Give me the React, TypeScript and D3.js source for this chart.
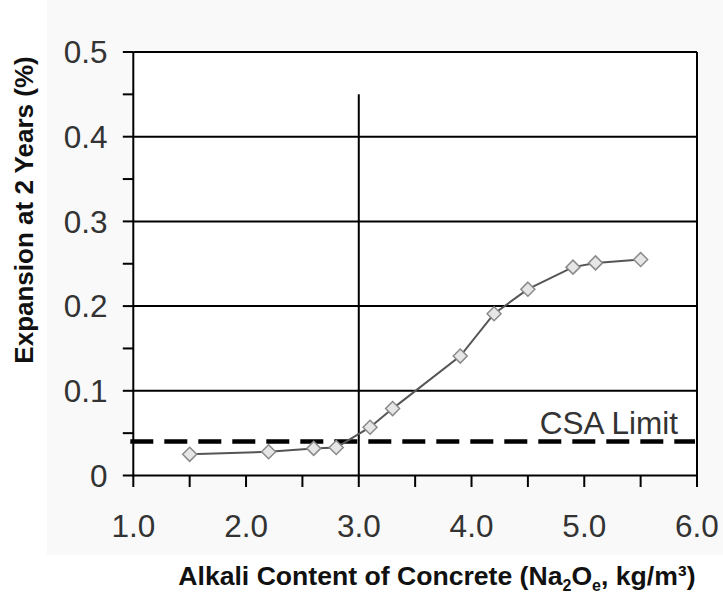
import React from "react";
import * as d3 from "d3";

const alkali = [1.5, 2.2, 2.6, 2.8, 3.1, 3.3, 3.9, 4.2, 4.5, 4.9, 5.1, 5.5];
const expansion = [0.025, 0.028, 0.032, 0.033, 0.057, 0.079, 0.141, 0.191, 0.22, 0.246, 0.251, 0.255];
const xTickLabels = ["1.0", "2.0", "3.0", "4.0", "5.0", "6.0"];
const yTickLabels = ["0", "0.1", "0.2", "0.3", "0.4", "0.5"];
const csaLimit = 0.04;
const refAlkali = 3.0;
const refLineTop = 0.45;

const W = 723;
const H = 594;

export default function App() {
  const x = d3.scaleLinear().domain([1, 6]).range([133.3, 697]);
  const y = d3.scaleLinear().domain([0, 0.5]).range([475.5, 52]);

  const xMinor = d3.range(1, 6.001, 0.5);
  const yMinor = d3.range(0, 0.5001, 0.05);
  const grid = [0.1, 0.2, 0.3, 0.4, 0.5];

  const line = d3
    .line<number>()
    .x((_, i) => x(alkali[i]))
    .y((d) => y(d));

  const diamond = (cx: number, cy: number, r: number) =>
    `M${cx},${cy - r}L${cx + r},${cy}L${cx},${cy + r}L${cx - r},${cy}Z`;

  const font = "Liberation Sans, Arial, Helvetica, sans-serif";

  return (
    <svg
      width={W}
      height={H}
      style={{ position: "absolute", left: 0, top: 0, background: "#ffffff" }}
      fontFamily={font}
    >
      <rect x={47} y={0} width={W - 47} height={555} fill="#f9f9f9" />
      <rect x={x(1)} y={y(0.5)} width={x(6) - x(1)} height={y(0) - y(0.5)} fill="#ffffff" />

      {grid.map((g) => (
        <line key={"g" + g} x1={x(1)} x2={x(6)} y1={y(g)} y2={y(g)} stroke="#000" strokeWidth={2} />
      ))}
      <line x1={x(6)} x2={x(6)} y1={y(0.5)} y2={y(0)} stroke="#000" strokeWidth={2} />
      <line x1={x(refAlkali)} x2={x(refAlkali)} y1={y(refLineTop)} y2={y(0)} stroke="#000" strokeWidth={2} />

      <line
        x1={x(1) - 3}
        x2={x(6) - 2}
        y1={y(csaLimit)}
        y2={y(csaLimit)}
        stroke="#000"
        strokeWidth={4.5}
        strokeDasharray="23 11"
      />
      <text x={678} y={434.3} textAnchor="end" fontSize={31.5} fill="#333">
        CSA Limit
      </text>

      <line x1={x(1)} x2={x(1)} y1={y(0.5)} y2={y(0) + 1} stroke="#000" strokeWidth={2} />
      <line x1={x(1) - 1} x2={x(6) + 1} y1={y(0)} y2={y(0)} stroke="#000" strokeWidth={2} />
      {xMinor.map((v) => (
        <line key={"xt" + v} x1={x(v)} x2={x(v)} y1={y(0)} y2={y(0) + 11.5} stroke="#000" strokeWidth={2} />
      ))}
      {yMinor.map((v) => (
        <line key={"yt" + v} x1={x(1) - 10.5} x2={x(1)} y1={y(v)} y2={y(v)} stroke="#000" strokeWidth={2} />
      ))}
      {xTickLabels.map((t) => (
        <text key={"xl" + t} x={x(+t)} y={536.7} textAnchor="middle" fontSize={31.5} fill="#333">
          {t}
        </text>
      ))}
      {yTickLabels.map((t) => (
        <text key={"yl" + t} x={107.5} y={y(+t) + 11.2} textAnchor="end" fontSize={31.5} fill="#333">
          {t}
        </text>
      ))}

      <path d={line(expansion) || ""} fill="none" stroke="#555" strokeWidth={2} />
      {expansion.map((v, i) => (
        <path
          key={"p" + i}
          d={diamond(x(alkali[i]), y(v), 7)}
          fill="#e6e6e6"
          stroke="#8a8a8a"
          strokeWidth={1.5}
        />
      ))}

      <text
        transform={`translate(33,${210}) rotate(-90)`}
        textAnchor="middle"
        fontSize={26}
        fontWeight="bold"
        fill="#111"
      >
        Expansion at 2 Years (%)
      </text>
      <text x={178.3} y={585} fontSize={26.6} fontWeight="bold" fill="#111">
        Alkali Content of Concrete (Na
        <tspan fontSize={16} dy={6}>2</tspan>
        <tspan dy={-6}>O</tspan>
        <tspan fontSize={16} dy={6}>e</tspan>
        <tspan dy={-6}>, kg/m³)</tspan>
      </text>
    </svg>
  );
}
